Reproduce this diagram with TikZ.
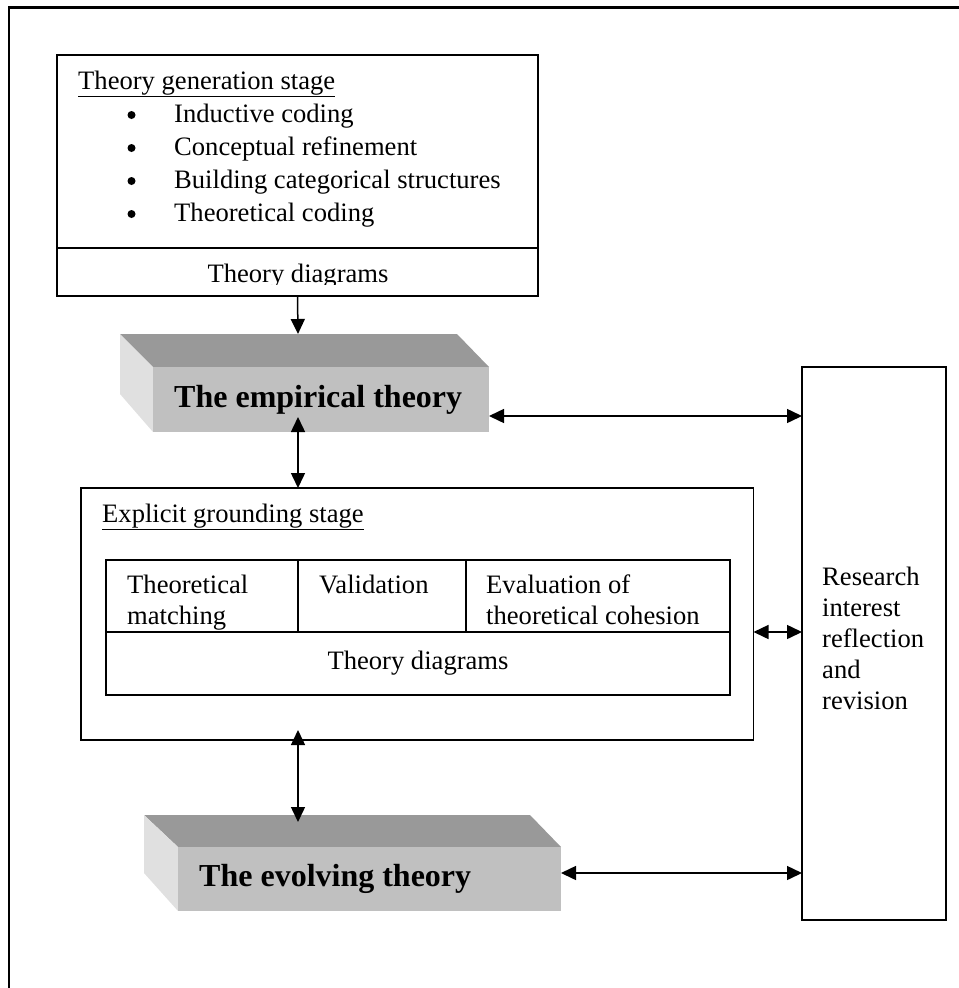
\documentclass[tikz,border=0pt]{standalone}
\usepackage{fontspec}
\setmainfont{Liberation Serif}
\usetikzlibrary{arrows.meta}
\newcommand{\bodysize}{\fontsize{26.6bp}{31bp}\selectfont}
\newcommand{\slabsize}{\fontsize{32bp}{38bp}\selectfont\bfseries}
\definecolor{slabtop}{HTML}{999999}
\definecolor{slabfront}{HTML}{C0C0C0}
\definecolor{slableft}{HTML}{E0E0E0}
\tikzset{box/.style={draw, line width=1.8bp, inner sep=0pt, outer sep=0pt, anchor=north west, font=\bodysize},
 txt/.style={font=\bodysize, inner sep=0pt, anchor=base west},
 dot/.style={circle, fill, inner sep=0pt, minimum size=8bp},
 slab/.style={fill=slabfront, inner sep=0pt, outer sep=0pt, anchor=north west},
 slabtxt/.style={font=\slabsize, inner sep=0pt, anchor=west},
 feed/.style={line width=1.5bp, ->},
 link/.style={line width=1.5bp, <->},
 }

\begin{document}
\begin{tikzpicture}[x=1bp, y=-1bp, >={Triangle[length=15bp,width=14bp]}]
        \useasboundingbox (0,0) rectangle (959,988);
        \draw[line width=2.5bp] (959,7.5) -- (9,7.5) -- (9,988);

        \node[box, minimum width=481bp, minimum height=193bp] (genlist) at (57,55) {};
        \node[box, minimum width=481bp, minimum height=48bp] (gendiag) at (57,248) {};
        \node[txt] (gentitle) at (78,89) {\underline{Theory generation stage}};
        \foreach \s[count=\i] in {Inductive coding, Conceptual refinement, Building categorical structures, Theoretical coding} {
            \node[dot] (bul\i) at (131.5, 82+33*\i) {};
            \node[txt] (item\i) at (174, 89+33*\i) {\s};
        }
        \begin{scope}
            \clip (57,248) rectangle (538,284);
            \node[txt, anchor=base] (gendiagtext) at (298,282) {Theory diagrams};
        \end{scope}

        \fill[slabtop] (120,334) -- (457,334) -- (489,367) -- (153,367) -- cycle;
        \fill[slableft] (120,334) -- (153,367) -- (153,432) -- (120,394) -- cycle;
        \node[slab, minimum width=336bp, minimum height=65bp] (emp) at (153,367) {};
        \node[slabtxt] (emptext) at ([xshift=21bp]emp.west) {The empirical theory};

        \fill[slabtop] (144,815) -- (530,815) -- (561,847) -- (178,847) -- cycle;
        \fill[slableft] (144,815) -- (178,847) -- (178,911) -- (144,873) -- cycle;
        \node[slab, minimum width=383bp, minimum height=64bp] (evo) at (178,847) {};
        \node[slabtxt] (evotext) at ([xshift=21bp]evo.west) {The evolving theory};

        \node[box, minimum width=672.5bp, minimum height=252bp] (gro) at (81,488) {};
        \node[txt] (grotitle) at (102,522) {\underline{Explicit grounding stage}};
        \node[box, minimum width=192bp, minimum height=72bp] (match) at (106,560) {};
        \node[box, minimum width=168bp, minimum height=72bp] (valid) at (match.north east) {};
        \node[box, minimum width=264bp, minimum height=72bp] (cohes) at (valid.north east) {};
        \node[box, minimum width=624bp, minimum height=63bp] (tdiag) at (match.south west) {Theory diagrams};
        \node[txt] (match1) at (127,593) {Theoretical};
        \node[txt] (match2) at (127,624) {matching};
        \node[txt] (valid1) at (319,593) {Validation};
        \node[txt] (cohes1) at (486,593) {Evaluation of};
        \node[txt] (cohes2) at (486,624) {theoretical cohesion};

        \node[box, minimum width=144bp, minimum height=553bp] (res) at (802,367) {};
        \foreach \w[count=\i] in {Research, interest, reflection, and, revision} {
            \node[txt] (res\i) at (822, 554+31*\i) {\w};
        }

        \coordinate (emptop) at (298,334);
        \coordinate (empin) at (298,417);
        \coordinate (empright) at (489,416);
        \coordinate (groin) at (298,730);
        \coordinate (evotop) at (298,822);
        \coordinate (evoright) at (561,873);
        \draw[feed] (gendiag.south) -- (emptop);
        \draw[link] (empright) -- (empright -| res.west);
        \draw[link] (empin) -- (empin |- gro.north);
        \draw[link] (gro.east |- tdiag.north) -- (res.west |- tdiag.north);
        \draw[link] (groin) -- (evotop);
        \draw[link] (evoright) -- (evoright -| res.west);
    \end{tikzpicture}
\end{document}
